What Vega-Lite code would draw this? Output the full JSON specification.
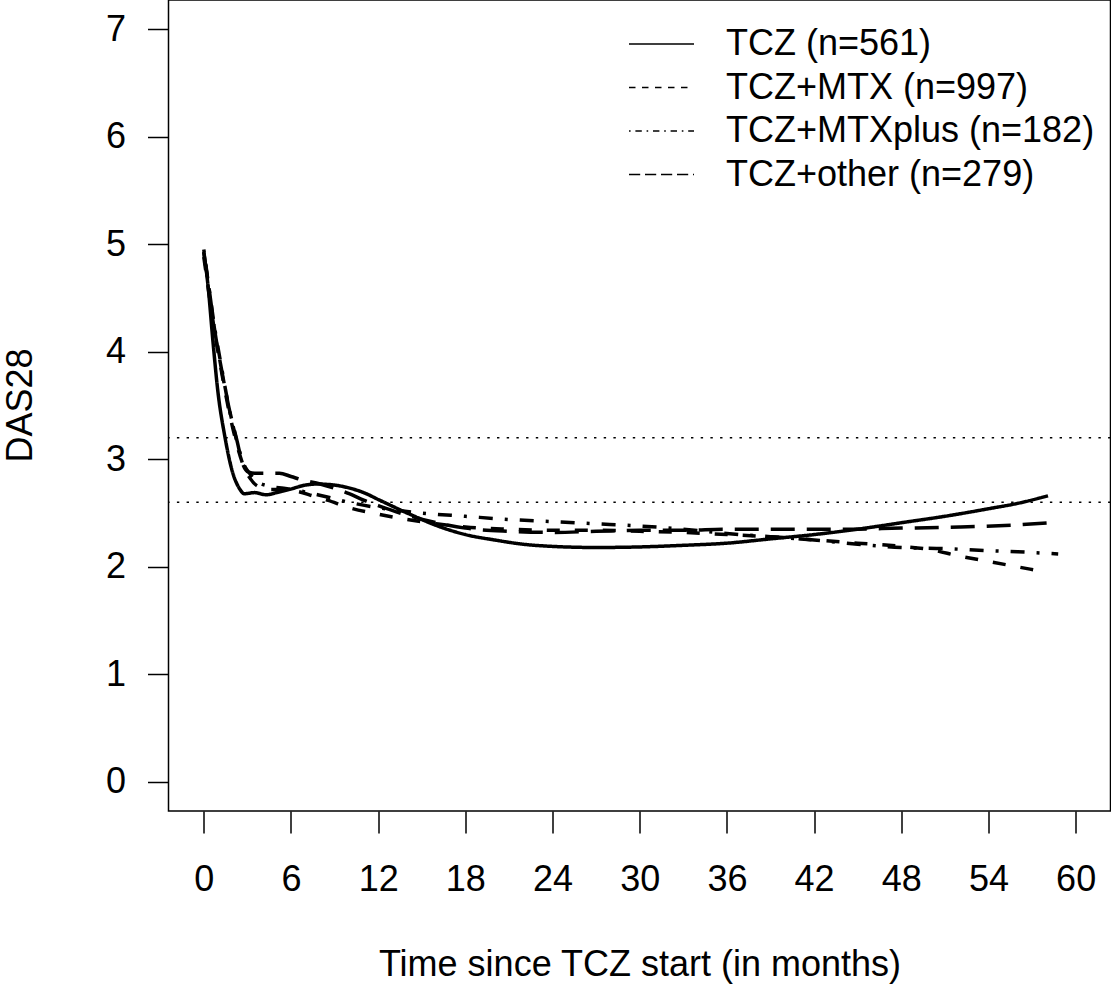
{
  "$schema": "https://vega.github.io/schema/vega-lite/v6.json",
  "width": 942,
  "height": 811,
  "autosize": {"type": "none"},
  "padding": {"left": 168.5, "top": 0, "right": 0.5, "bottom": 173},
  "background": "white",
  "config": {
    "font": "Liberation Sans",
    "view": {"stroke": "black", "strokeWidth": 1.5}
  },
  "datasets": {
    "curves": [
      {"group": "TCZ (n=561)", "month": 0, "das": 4.93},
      {"group": "TCZ (n=561)", "month": 0.3, "das": 4.6},
      {"group": "TCZ (n=561)", "month": 0.62, "das": 4.11},
      {"group": "TCZ (n=561)", "month": 0.96, "das": 3.64},
      {"group": "TCZ (n=561)", "month": 1.45, "das": 3.21},
      {"group": "TCZ (n=561)", "month": 2.0, "das": 2.87},
      {"group": "TCZ (n=561)", "month": 2.4, "das": 2.74},
      {"group": "TCZ (n=561)", "month": 2.8, "das": 2.68},
      {"group": "TCZ (n=561)", "month": 3.5, "das": 2.69},
      {"group": "TCZ (n=561)", "month": 4.3, "das": 2.67},
      {"group": "TCZ (n=561)", "month": 5.0, "das": 2.69},
      {"group": "TCZ (n=561)", "month": 5.9, "das": 2.72},
      {"group": "TCZ (n=561)", "month": 7.0, "das": 2.76},
      {"group": "TCZ (n=561)", "month": 7.8, "das": 2.77},
      {"group": "TCZ (n=561)", "month": 9.0, "das": 2.76},
      {"group": "TCZ (n=561)", "month": 9.8, "das": 2.74},
      {"group": "TCZ (n=561)", "month": 11.0, "das": 2.69},
      {"group": "TCZ (n=561)", "month": 12.1, "das": 2.62},
      {"group": "TCZ (n=561)", "month": 14.0, "das": 2.5},
      {"group": "TCZ (n=561)", "month": 16.3, "das": 2.37},
      {"group": "TCZ (n=561)", "month": 18, "das": 2.3},
      {"group": "TCZ (n=561)", "month": 20, "das": 2.25},
      {"group": "TCZ (n=561)", "month": 22, "das": 2.21},
      {"group": "TCZ (n=561)", "month": 24, "das": 2.19},
      {"group": "TCZ (n=561)", "month": 27, "das": 2.18},
      {"group": "TCZ (n=561)", "month": 30, "das": 2.185},
      {"group": "TCZ (n=561)", "month": 33, "das": 2.2},
      {"group": "TCZ (n=561)", "month": 36, "das": 2.22},
      {"group": "TCZ (n=561)", "month": 39, "das": 2.26},
      {"group": "TCZ (n=561)", "month": 42, "das": 2.3},
      {"group": "TCZ (n=561)", "month": 45, "das": 2.35},
      {"group": "TCZ (n=561)", "month": 48, "das": 2.41},
      {"group": "TCZ (n=561)", "month": 51, "das": 2.47},
      {"group": "TCZ (n=561)", "month": 54, "das": 2.54},
      {"group": "TCZ (n=561)", "month": 56, "das": 2.59},
      {"group": "TCZ (n=561)", "month": 58.1, "das": 2.66},

      {"group": "TCZ+MTX (n=997)", "month": 0, "das": 4.88},
      {"group": "TCZ+MTX (n=997)", "month": 0.4, "das": 4.5},
      {"group": "TCZ+MTX (n=997)", "month": 0.75, "das": 4.18},
      {"group": "TCZ+MTX (n=997)", "month": 1.2, "das": 3.83},
      {"group": "TCZ+MTX (n=997)", "month": 1.7, "das": 3.47},
      {"group": "TCZ+MTX (n=997)", "month": 2.27, "das": 3.14},
      {"group": "TCZ+MTX (n=997)", "month": 2.7, "das": 2.95},
      {"group": "TCZ+MTX (n=997)", "month": 3.2, "das": 2.82},
      {"group": "TCZ+MTX (n=997)", "month": 3.6, "das": 2.76},
      {"group": "TCZ+MTX (n=997)", "month": 4.5, "das": 2.72},
      {"group": "TCZ+MTX (n=997)", "month": 5.5, "das": 2.72},
      {"group": "TCZ+MTX (n=997)", "month": 6.5, "das": 2.7},
      {"group": "TCZ+MTX (n=997)", "month": 7.5, "das": 2.66},
      {"group": "TCZ+MTX (n=997)", "month": 8.5, "das": 2.62},
      {"group": "TCZ+MTX (n=997)", "month": 10, "das": 2.55},
      {"group": "TCZ+MTX (n=997)", "month": 12, "das": 2.49},
      {"group": "TCZ+MTX (n=997)", "month": 14, "das": 2.44},
      {"group": "TCZ+MTX (n=997)", "month": 16, "das": 2.4},
      {"group": "TCZ+MTX (n=997)", "month": 18, "das": 2.37},
      {"group": "TCZ+MTX (n=997)", "month": 21, "das": 2.35},
      {"group": "TCZ+MTX (n=997)", "month": 24, "das": 2.34},
      {"group": "TCZ+MTX (n=997)", "month": 27, "das": 2.34},
      {"group": "TCZ+MTX (n=997)", "month": 30, "das": 2.33},
      {"group": "TCZ+MTX (n=997)", "month": 33, "das": 2.32},
      {"group": "TCZ+MTX (n=997)", "month": 36, "das": 2.3},
      {"group": "TCZ+MTX (n=997)", "month": 39, "das": 2.28},
      {"group": "TCZ+MTX (n=997)", "month": 42, "das": 2.25},
      {"group": "TCZ+MTX (n=997)", "month": 45, "das": 2.22},
      {"group": "TCZ+MTX (n=997)", "month": 48, "das": 2.19},
      {"group": "TCZ+MTX (n=997)", "month": 50, "das": 2.16},
      {"group": "TCZ+MTX (n=997)", "month": 52, "das": 2.1},
      {"group": "TCZ+MTX (n=997)", "month": 54, "das": 2.05},
      {"group": "TCZ+MTX (n=997)", "month": 56, "das": 2.0},
      {"group": "TCZ+MTX (n=997)", "month": 57.6, "das": 1.96},

      {"group": "TCZ+MTXplus (n=182)", "month": 0, "das": 4.95},
      {"group": "TCZ+MTXplus (n=182)", "month": 0.4, "das": 4.55},
      {"group": "TCZ+MTXplus (n=182)", "month": 0.75, "das": 4.22},
      {"group": "TCZ+MTXplus (n=182)", "month": 1.2, "das": 3.87},
      {"group": "TCZ+MTXplus (n=182)", "month": 1.7, "das": 3.5},
      {"group": "TCZ+MTXplus (n=182)", "month": 2.27, "das": 3.17},
      {"group": "TCZ+MTXplus (n=182)", "month": 2.7, "das": 2.97},
      {"group": "TCZ+MTXplus (n=182)", "month": 3.2, "das": 2.86},
      {"group": "TCZ+MTXplus (n=182)", "month": 3.6, "das": 2.8},
      {"group": "TCZ+MTXplus (n=182)", "month": 4.5, "das": 2.75},
      {"group": "TCZ+MTXplus (n=182)", "month": 5.5, "das": 2.73},
      {"group": "TCZ+MTXplus (n=182)", "month": 6.5, "das": 2.71},
      {"group": "TCZ+MTXplus (n=182)", "month": 7.5, "das": 2.68},
      {"group": "TCZ+MTXplus (n=182)", "month": 8.5, "das": 2.65},
      {"group": "TCZ+MTXplus (n=182)", "month": 10, "das": 2.6},
      {"group": "TCZ+MTXplus (n=182)", "month": 12, "das": 2.55},
      {"group": "TCZ+MTXplus (n=182)", "month": 15, "das": 2.5},
      {"group": "TCZ+MTXplus (n=182)", "month": 18, "das": 2.47},
      {"group": "TCZ+MTXplus (n=182)", "month": 21, "das": 2.44},
      {"group": "TCZ+MTXplus (n=182)", "month": 24, "das": 2.42},
      {"group": "TCZ+MTXplus (n=182)", "month": 27, "das": 2.4},
      {"group": "TCZ+MTXplus (n=182)", "month": 30, "das": 2.38},
      {"group": "TCZ+MTXplus (n=182)", "month": 33, "das": 2.35},
      {"group": "TCZ+MTXplus (n=182)", "month": 36, "das": 2.31},
      {"group": "TCZ+MTXplus (n=182)", "month": 39, "das": 2.28},
      {"group": "TCZ+MTXplus (n=182)", "month": 42, "das": 2.25},
      {"group": "TCZ+MTXplus (n=182)", "month": 45, "das": 2.21},
      {"group": "TCZ+MTXplus (n=182)", "month": 48, "das": 2.18},
      {"group": "TCZ+MTXplus (n=182)", "month": 51, "das": 2.17},
      {"group": "TCZ+MTXplus (n=182)", "month": 54, "das": 2.15},
      {"group": "TCZ+MTXplus (n=182)", "month": 56, "das": 2.14},
      {"group": "TCZ+MTXplus (n=182)", "month": 58.8, "das": 2.12},

      {"group": "TCZ+other (n=279)", "month": 0, "das": 4.92},
      {"group": "TCZ+other (n=279)", "month": 0.4, "das": 4.55},
      {"group": "TCZ+other (n=279)", "month": 0.75, "das": 4.2},
      {"group": "TCZ+other (n=279)", "month": 1.2, "das": 3.85},
      {"group": "TCZ+other (n=279)", "month": 1.7, "das": 3.5},
      {"group": "TCZ+other (n=279)", "month": 2.27, "das": 3.18},
      {"group": "TCZ+other (n=279)", "month": 2.7, "das": 2.95},
      {"group": "TCZ+other (n=279)", "month": 3.1, "das": 2.88},
      {"group": "TCZ+other (n=279)", "month": 3.5, "das": 2.87},
      {"group": "TCZ+other (n=279)", "month": 4.4, "das": 2.87},
      {"group": "TCZ+other (n=279)", "month": 5.2, "das": 2.87},
      {"group": "TCZ+other (n=279)", "month": 6.0, "das": 2.84},
      {"group": "TCZ+other (n=279)", "month": 6.7, "das": 2.81},
      {"group": "TCZ+other (n=279)", "month": 8, "das": 2.77},
      {"group": "TCZ+other (n=279)", "month": 9, "das": 2.73},
      {"group": "TCZ+other (n=279)", "month": 10, "das": 2.68},
      {"group": "TCZ+other (n=279)", "month": 11, "das": 2.62},
      {"group": "TCZ+other (n=279)", "month": 12, "das": 2.57},
      {"group": "TCZ+other (n=279)", "month": 14, "das": 2.48},
      {"group": "TCZ+other (n=279)", "month": 16, "das": 2.41},
      {"group": "TCZ+other (n=279)", "month": 18, "das": 2.36},
      {"group": "TCZ+other (n=279)", "month": 21, "das": 2.33},
      {"group": "TCZ+other (n=279)", "month": 24, "das": 2.32},
      {"group": "TCZ+other (n=279)", "month": 27, "das": 2.33},
      {"group": "TCZ+other (n=279)", "month": 30, "das": 2.34},
      {"group": "TCZ+other (n=279)", "month": 33, "das": 2.34},
      {"group": "TCZ+other (n=279)", "month": 36, "das": 2.35},
      {"group": "TCZ+other (n=279)", "month": 40, "das": 2.35},
      {"group": "TCZ+other (n=279)", "month": 44, "das": 2.35},
      {"group": "TCZ+other (n=279)", "month": 48, "das": 2.36},
      {"group": "TCZ+other (n=279)", "month": 52, "das": 2.37},
      {"group": "TCZ+other (n=279)", "month": 56, "das": 2.39},
      {"group": "TCZ+other (n=279)", "month": 58.3, "das": 2.41}
    ],
    "refs": [{"ref": 3.2}, {"ref": 2.6}]
  },
  "layer": [
    {
      "data": {"name": "curves"},
      "mark": {"type": "line", "color": "black", "strokeWidth": 3.5, "interpolate": "monotone"},
      "encoding": {
        "x": {
          "field": "month", "type": "quantitative",
          "scale": {"domain": [-2.43, 62.4], "nice": false, "zero": false},
          "axis": {
            "values": [0, 6, 12, 18, 24, 30, 36, 42, 48, 54, 60],
            "format": "d",
            "title": "Time since TCZ start (in months)",
            "grid": false, "domain": false,
            "ticks": true, "tickSize": 22, "tickWidth": 1.5, "tickColor": "black",
            "labelFontSize": 36, "labelColor": "black", "labelPadding": 29, "labelFlush": false,
            "titleFontSize": 36, "titleFontWeight": "normal", "titleColor": "black",
            "titleBaseline": "alphabetic", "titleAlign": "center", "titleX": 471, "titleY": 164
          }
        },
        "y": {
          "field": "das", "type": "quantitative",
          "scale": {"domain": [-0.27, 7.27], "nice": false, "zero": false},
          "axis": {
            "values": [0, 1, 2, 3, 4, 5, 6, 7],
            "format": "d",
            "title": "DAS28",
            "grid": false, "domain": false,
            "ticks": true, "tickSize": 21, "tickWidth": 1.5, "tickColor": "black",
            "labelFontSize": 36, "labelColor": "black", "labelPadding": 22, "labelFlush": false,
            "titleFontSize": 36, "titleFontWeight": "normal", "titleColor": "black",
            "titleAngle": -90, "titleBaseline": "alphabetic", "titleAlign": "center",
            "titleX": -137, "titleY": 405
          }
        },
        "strokeDash": {
          "field": "group", "type": "nominal",
          "scale": {
            "domain": ["TCZ (n=561)", "TCZ+MTX (n=997)", "TCZ+MTXplus (n=182)", "TCZ+other (n=279)"],
            "range": [[1, 0], [13, 15], [3, 12, 14, 12], [24, 12]]
          },
          "legend": null
        }
      }
    },
    {
      "data": {"name": "refs"},
      "mark": {"type": "rule", "color": "black", "strokeWidth": 1.6, "strokeDash": [2.4, 7.3]},
      "encoding": {
        "y": {"field": "ref", "type": "quantitative", "title": "DAS28"}
      }
    },
    {
      "data": {"name": "curves"},
      "transform": [{"filter": "datum.das < 0"}],
      "mark": {"type": "line", "color": "black", "strokeWidth": 1.5},
      "encoding": {
        "x": {"field": "month", "type": "quantitative", "title": "Time since TCZ start (in months)"},
        "y": {"field": "das", "type": "quantitative", "title": "DAS28"},
        "strokeDash": {
          "field": "group", "type": "nominal",
          "scale": {
            "domain": ["TCZ (n=561)", "TCZ+MTX (n=997)", "TCZ+MTXplus (n=182)", "TCZ+other (n=279)"],
            "range": [[1, 0], [6.5, 6.5], [1.6, 4.8, 6.4, 4.8], [11.2, 4.8]]
          },
          "legend": {
            "title": null,
            "orient": "none",
            "legendX": 459.5,
            "legendY": 24,
            "padding": 0,
            "symbolType": "stroke",
            "symbolSize": 4225,
            "symbolStrokeWidth": 1.5,
            "symbolStrokeColor": "black",
            "symbolOpacity": 1,
            "labelFontSize": 36,
            "labelColor": "black",
            "labelOffset": 31,
            "labelLimit": 600,
            "clipHeight": 40,
            "rowPadding": 3.5
          }
        }
      }
    }
  ],
  "resolve": {"scale": {"strokeDash": "independent"}, "legend": {"strokeDash": "independent"}}
}
